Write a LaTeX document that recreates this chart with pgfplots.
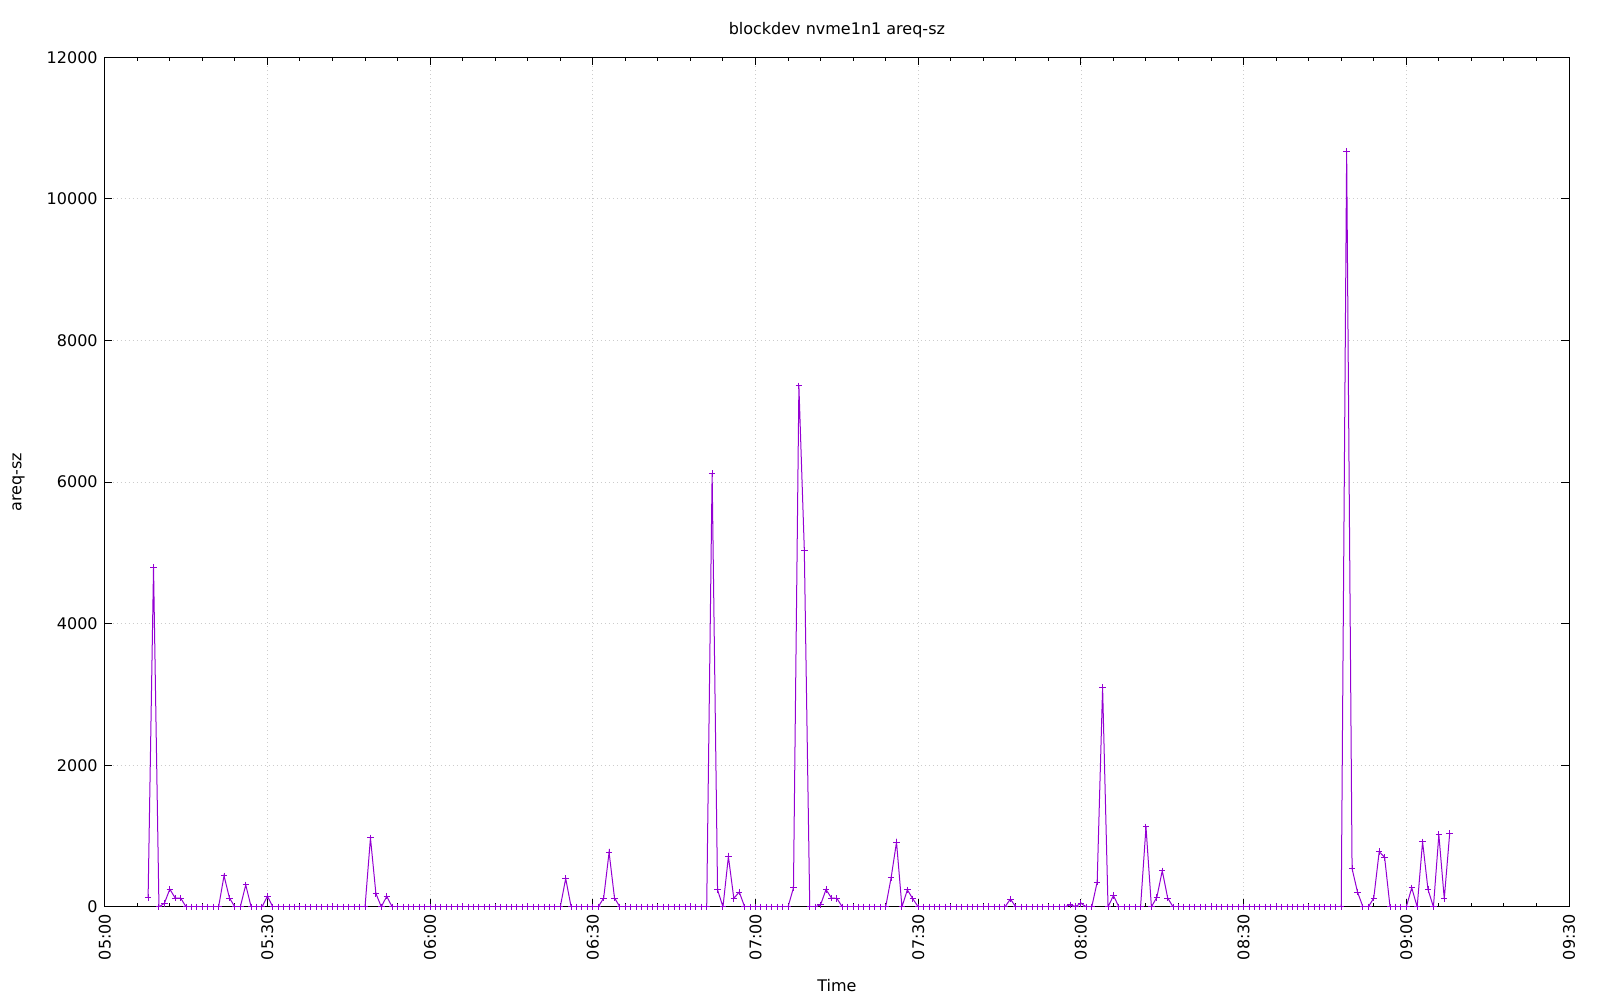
\documentclass[border=0pt]{standalone}
\usepackage{fontspec}
\setmainfont{DejaVu Sans}
\usepackage{pgfplots}
\usepackage{pgfplotstable}
\pgfplotsset{compat=1.18}
\definecolor{gpviolet}{HTML}{9400D3}

% minutes after 05:00, areq-sz
\pgfplotstableread{
t v
8 130
9 4800
10 0
11 50
12 250
13 125
14 125
15 0
16 0
17 0
18 0
19 0
20 0
21 0
22 440
23 125
24 0
25 0
26 310
27 0
28 0
29 0
30 150
31 0
32 0
33 0
34 0
35 0
36 0
37 0
38 0
39 0
40 0
41 0
42 5
43 0
44 0
45 0
46 0
47 0
48 0
49 975
50 190
51 0
52 150
53 0
54 0
55 0
56 0
57 0
58 0
59 0
60 0
61 0
62 0
63 0
64 0
65 0
66 5
67 0
68 0
69 0
70 0
71 0
72 0
73 0
74 0
75 0
76 0
77 0
78 5
79 0
80 0
81 0
82 0
83 0
84 0
85 400
86 0
87 0
88 0
89 0
90 0
91 0
92 125
93 770
94 125
95 0
96 0
97 0
98 0
99 0
100 0
101 0
102 0
103 0
104 0
105 0
106 0
107 0
108 5
109 0
110 0
111 0
112 6120
113 240
114 0
115 710
116 120
117 210
118 0
119 0
120 0
121 0
122 0
123 0
124 0
125 0
126 0
127 270
128 7360
129 5040
130 0
131 0
132 30
133 245
134 125
135 120
136 0
137 0
138 0
139 0
140 0
141 0
142 0
143 0
144 0
145 410
146 915
147 0
148 240
149 115
150 0
151 0
152 0
153 0
154 0
155 0
156 0
157 0
158 0
159 0
160 0
161 0
162 0
163 5
164 0
165 0
166 0
167 110
168 0
169 0
170 0
171 0
172 0
173 0
174 0
175 0
176 0
177 0
178 30
179 5
180 50
181 0
182 0
183 350
184 3100
185 0
186 160
187 0
188 0
189 0
190 0
191 0
192 1130
193 0
194 135
195 510
196 125
197 0
198 0
199 0
200 0
201 0
202 0
203 0
204 5
205 0
206 0
207 0
208 0
209 0
210 0
211 0
212 0
213 0
214 0
215 0
216 5
217 0
218 0
219 0
220 0
221 0
222 0
223 0
224 0
225 0
226 0
227 0
228 0
229 10670
230 540
231 210
232 0
233 0
234 125
235 780
236 700
237 0
238 0
239 0
240 0
241 270
242 0
243 920
244 245
245 0
246 1020
247 115
248 1040
}\areqdata

\begin{document}
\begin{tikzpicture}[font=\fontsize{8}{10}\selectfont]
\begin{axis}[
    name=ax,
    scale only axis,
    width=732pt,
    height=424.7pt,
    xmin=0, xmax=270,
    ymin=0, ymax=12000,
    xtick={0,30,...,270},
    xticklabels={05:00,05:30,06:00,06:30,07:00,07:30,08:00,08:30,09:00,09:30},
    minor x tick num=4,
    ytick={0,2000,...,12000},
    scaled y ticks=false,
    yticklabel style={/pgf/number format/1000 sep={}},
    xticklabel style={rotate=90, anchor=east},
    tick align=inside,
    major tick length=3.85pt,
    minor tick length=2pt,
    every tick/.style={black, line width=0.5pt},
    axis line style={black, line width=0.5pt},
    grid=major,
    major grid style={dash pattern=on 0.5pt off 1.5pt, gray!40, line width=0.4pt},
    /pgf/number format/assume math mode=true,
]
\addplot[gpviolet, line width=0.5pt, mark=+, mark size=1.6pt,
    mark options={line width=0.5pt}] table[x=t, y=v] {\areqdata};
\end{axis}
\node at ([yshift=13.85pt]ax.north) {blockdev nvme1n1 areq-sz};
\node at ([yshift=-39.5pt]ax.south) {Time};
\node[rotate=90] at ([xshift=-43.1pt]ax.west) {areq-sz};
\pgfresetboundingbox
\path ([shift={(-52.35pt,-46.65pt)}]ax.south west) rectangle ([shift={(15.5pt,28.65pt)}]ax.north east);
\end{tikzpicture}
\end{document}
